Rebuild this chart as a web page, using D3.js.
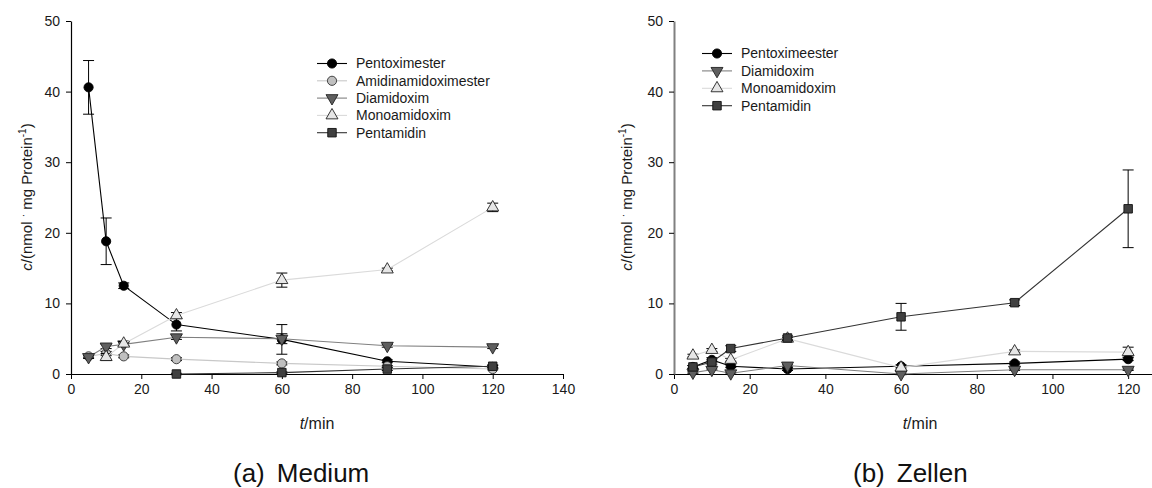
<!DOCTYPE html>
<html>
<head>
<meta charset="utf-8">
<script src="https://cdn.jsdelivr.net/npm/d3@7/dist/d3.min.js"></script>
<style>
  html, body { margin: 0; padding: 0; background: #fff; overflow: hidden; }
  svg { display: block; font-family: Arial, "Liberation Sans", sans-serif; }
</style>
</head>
<body>
<svg id="chart" width="1152" height="488"></svg>
<script>
// ---------- DATA ----------
const times = [5, 10, 15, 30, 60, 90, 120];
const yTicks = [0, 10, 20, 30, 40, 50];
const xTicksMedium = [0, 20, 40, 60, 80, 100, 120, 140];
const xTicksZellen = [0, 20, 40, 60, 80, 100, 120];

// (a) Medium
const mediumNames = ["Pentoximester", "Amidinamidoximester", "Diamidoxim", "Monoamidoxim", "Pentamidin"];
const mediumPentoximester      = [40.6, 18.8, 12.5, 7.0, 4.9, 1.8, 1.0];
const mediumPentoximesterErr   = [3.8, 3.3, 0.4, 0.9, 2.1, 0.2, 0.2];
const mediumAmidinamidoxim     = [2.5, 2.9, 2.5, 2.1, 1.5, 1.1, 0.7];
const mediumAmidinamidoximErr  = [0.2, 0.3, 0.2, 0.2, 0.2, 0.1, 0.1];
const mediumDiamidoxim         = [2.4, 3.9, 4.2, 5.2, 5.0, 4.0, 3.8];
const mediumDiamidoximErr      = [0.2, 0.3, 0.2, 0.3, 0.7, 0.2, 0.2];
const mediumMonoamidoxim       = [null, 2.4, 4.3, 8.3, 13.3, 14.8, 23.6];
const mediumMonoamidoximErr    = [0, 0.5, 0.3, 0.4, 1.0, 0.2, 0.6];
const mediumPentamidin         = [null, null, null, 0.0, 0.2, 0.7, 1.1];
const mediumPentamidinErr      = [0, 0, 0, 0.1, 0.1, 0.2, 0.2];

// (b) Zellen
const zellenNames = ["Pentoximeester", "Diamidoxim", "Monoamidoxim", "Pentamidin"];
const zellenPentoximeester     = [1.0, 2.0, 1.1, 0.7, 1.1, 1.5, 2.1];
const zellenPentoximeesterErr  = [0.2, 0.3, 0.2, 0.2, 0.2, 0.2, 0.2];
const zellenDiamidoxim         = [0.2, 0.6, 0.1, 1.2, 0.0, 0.6, 0.6];
const zellenDiamidoximErr      = [0.1, 0.1, 0.1, 0.1, 0.1, 0.1, 0.1];
const zellenMonoamidoxim       = [2.6, 3.4, 2.0, 5.0, 0.9, 3.2, 3.1];
const zellenMonoamidoximErr    = [0.2, 0.2, 0.2, 0.2, 0.2, 0.2, 0.7];
const zellenPentamidin         = [1.0, 1.7, 3.6, 5.1, 8.1, 10.1, 23.4];
const zellenPentamidinErr      = [0.2, 0.3, 0.4, 0.3, 1.9, 0.4, 5.5];

// ---------- STYLES ----------
const styles = {
  Pentoximester:       { line: "#000000", fill: "#000000", stroke: "#000000", sym: "circle" },
  Pentoximeester:      { line: "#000000", fill: "#000000", stroke: "#000000", sym: "circle" },
  Amidinamidoximester: { line: "#c8c8c8", fill: "#c0c0c0", stroke: "#333333", sym: "circle" },
  Diamidoxim:          { line: "#808080", fill: "#5f5f5f", stroke: "#222222", sym: "down" },
  Monoamidoxim:        { line: "#dadada", fill: "#e6e6e6", stroke: "#222222", sym: "up" },
  Pentamidin:          { line: "#333333", fill: "#404040", stroke: "#111111", sym: "square" }
};

function series(name, vals, errs) {
  return { name, points: times.map((t, i) => ({ t, v: vals[i], e: errs[i] })).filter(d => d.v !== null) };
}

const mediumSeries = [
  series(mediumNames[0], mediumPentoximester, mediumPentoximesterErr),
  series(mediumNames[1], mediumAmidinamidoxim, mediumAmidinamidoximErr),
  series(mediumNames[2], mediumDiamidoxim, mediumDiamidoximErr),
  series(mediumNames[3], mediumMonoamidoxim, mediumMonoamidoximErr),
  series(mediumNames[4], mediumPentamidin, mediumPentamidinErr)
];
const zellenSeries = [
  series(zellenNames[0], zellenPentoximeester, zellenPentoximeesterErr),
  series(zellenNames[1], zellenDiamidoxim, zellenDiamidoximErr),
  series(zellenNames[2], zellenMonoamidoxim, zellenMonoamidoximErr),
  series(zellenNames[3], zellenPentamidin, zellenPentamidinErr)
];

const svg = d3.select("#chart");

function symbolPath(kind) {
  if (kind === "circle") return d3.symbol().type(d3.symbolCircle).size(66)();
  if (kind === "square") return d3.symbol().type(d3.symbolSquare).size(72)();
  return d3.symbol().type(d3.symbolTriangle).size(62)();
}
function symbolTransform(kind, x, y) {
  if (kind === "down") return `translate(${x},${y}) rotate(180)`;
  return `translate(${x},${y})`;
}

function drawPanel(cfg) {
  const g = svg.append("g");
  const x = d3.scaleLinear().domain(cfg.xDomain).range(cfg.xRange);
  const y = d3.scaleLinear().domain([0, 50]).range([374, 21]);

  // axes
  const xAxis = g.append("g").attr("transform", "translate(0,374)")
    .call(d3.axisBottom(x).tickValues(cfg.xTicks).tickSize(5).tickSizeOuter(0).tickPadding(5).tickFormat(d3.format("d")));
  const yAxis = g.append("g").attr("transform", `translate(${cfg.xRange[0]},0)`)
    .call(d3.axisLeft(y).tickValues(yTicks).tickSize(5).tickSizeOuter(0).tickPadding(6).tickFormat(d3.format("d")));
  [xAxis, yAxis].forEach(a => {
    a.selectAll("text").attr("font-size", 14).attr("fill", "#1a1a1a").attr("font-family", "Arial, 'Liberation Sans', sans-serif");
    a.selectAll("line").attr("stroke", "#000");
    a.select(".domain").attr("stroke", "#000").attr("stroke-width", 1.2);
  });
  if (cfg.yAxisColor) yAxis.select(".domain").attr("stroke", cfg.yAxisColor).attr("stroke-width", 2);

  // axis titles
  const xt = g.append("text").attr("x", cfg.xTitleX).attr("y", 429).attr("text-anchor", "middle")
    .attr("font-size", 16).attr("fill", "#1a1a1a");
  xt.append("tspan").attr("font-style", "italic").text("t");
  xt.append("tspan").text("/min");

  const yt = g.append("text").attr("transform", `translate(${cfg.yTitleX},197) rotate(-90)`)
    .attr("text-anchor", "middle").attr("font-size", 15).attr("fill", "#1a1a1a");
  yt.append("tspan").attr("font-style", "italic").text("c");
  yt.append("tspan").text("/(nmol ");
  yt.append("tspan").attr("dy", -5).attr("font-size", 10).text("·");
  yt.append("tspan").attr("dy", 5).text(" mg Protein");
  yt.append("tspan").attr("dy", -6).attr("font-size", 10).text("-1");
  yt.append("tspan").attr("dy", 6).text(")");

  // caption
  const cap = g.append("text").attr("x", cfg.capX).attr("y", 482).attr("font-size", 26).attr("fill", "#111");
  cap.append("tspan").text(cfg.capA);
  cap.append("tspan").attr("dx", 12).text(cfg.capB);

  const line = d3.line().x(d => x(d.t)).y(d => y(d.v));

  cfg.data.forEach(s => {
    const st = styles[s.name];
    const sg = g.append("g");
    // error bars
    const eb = sg.selectAll("g.eb").data(s.points.filter(d => d.e > 0)).enter().append("g");
    eb.append("line").attr("x1", d => x(d.t)).attr("x2", d => x(d.t))
      .attr("y1", d => y(d.v - d.e)).attr("y2", d => y(d.v + d.e)).attr("stroke", "#000").attr("stroke-width", 1);
    [1, -1].forEach(sg2 => {
      eb.append("line").attr("x1", d => x(d.t) - 5.5).attr("x2", d => x(d.t) + 5.5)
        .attr("y1", d => y(d.v + sg2 * d.e)).attr("y2", d => y(d.v + sg2 * d.e))
        .attr("stroke", "#000").attr("stroke-width", 1);
    });
    // line
    sg.append("path").datum(s.points).attr("d", line).attr("fill", "none")
      .attr("stroke", st.line).attr("stroke-width", 1.1);
    // markers
    sg.selectAll("path.m").data(s.points).enter().append("path").attr("class", "m")
      .attr("d", symbolPath(st.sym)).attr("transform", d => symbolTransform(st.sym, x(d.t), y(d.v)))
      .attr("fill", st.fill).attr("stroke", st.stroke).attr("stroke-width", 0.9);
  });

  // legend
  const lg = g.append("g");
  cfg.data.forEach((s, i) => {
    const st = styles[s.name];
    const ly = cfg.legY + i * cfg.legStep;
    lg.append("line").attr("x1", cfg.legX).attr("x2", cfg.legX + 30).attr("y1", ly).attr("y2", ly)
      .attr("stroke", st.line).attr("stroke-width", 1.1);
    lg.append("path").attr("d", symbolPath(st.sym)).attr("transform", symbolTransform(st.sym, cfg.legX + 15, ly))
      .attr("fill", st.fill).attr("stroke", st.stroke).attr("stroke-width", 0.9);
    lg.append("text").attr("x", cfg.legX + 39).attr("y", ly).attr("dy", "0.35em")
      .attr("font-size", 14).attr("fill", "#1a1a1a").text(s.name);
  });
}

drawPanel({
  data: mediumSeries, xDomain: [0, 140], xRange: [71, 563], xTicks: xTicksMedium,
  xTitleX: 317, yTitleX: 32, capX: 233, capA: "(a)", capB: "Medium",
  legX: 317, legY: 63.5, legStep: 17.3
});
drawPanel({
  data: zellenSeries, xDomain: [0, 130], xRange: [674, 1166], xTicks: xTicksZellen,
  xTitleX: 920, yTitleX: 632, capX: 853, capA: "(b)", capB: "Zellen",
  legX: 702, legY: 53.5, legStep: 17.4, yAxisColor: "#808080"
});
</script>
</body>
</html>
